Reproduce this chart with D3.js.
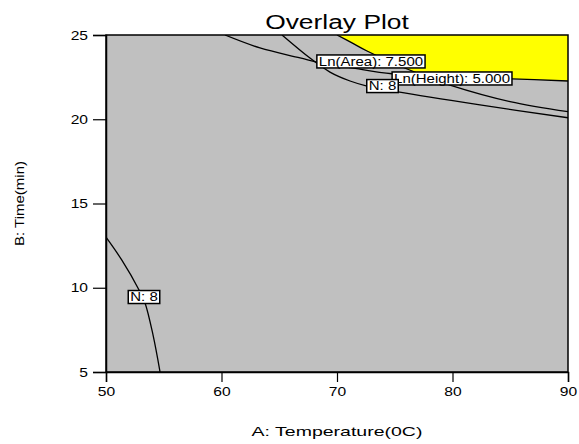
<!DOCTYPE html>
<html><head><meta charset="utf-8">
<script src="https://cdn.jsdelivr.net/npm/d3@7/dist/d3.min.js"></script>
<style>html,body{margin:0;padding:0;background:#fff;}svg{display:block;font-family:"Liberation Sans",Arial,sans-serif;}</style>
</head><body>
<script>
// ---- data ----
const xTicks = [50, 60, 70, 80, 90];
const yTicks = [5, 10, 15, 20, 25];
const xDomain = [50, 90];
const yDomain = [5, 25];
// contour Ln(Height) = 5.000  (A, B)
const heightContour = [[60.30,25],[63.33,24.23],[66.80,23.64],[68.53,23.34],[71.13,23.07],[74.76,22.70],[79.78,22.52],[85.15,22.40],[90,22.27]];
// contour Ln(Area) = 7.500
const areaContour = [[70,25],[71.3,24.53],[72.6,24.05],[75.02,23.28],[77.62,22.57],[79.78,22.03],[84.98,21.05],[90,20.45]];
// contour N = 8 (upper branch)
const nContourTop = [[65.24,25],[67.66,23.63],[69.39,22.80],[71.13,22.27],[72.6,21.97],[75.28,21.62],[82.38,20.85],[90,20.09]];
// contour N = 8 (lower-left branch)
const nContourLow = [[50,13.0],[51.36,11.65],[52.86,9.87],[53.38,9.1],[54.07,7.2],[54.68,5.0]];
const labelText = ["Ln(Area): 7.500","Ln(Height): 5.000","N: 8","N: 8"];
const labelX = [72.94, 79.96, 73.94, 53.29];
const labelY = [23.43, 22.42, 21.97, 9.45];
const titleText = "Overlay Plot";
const xTitle = "A: Temperature(0C)";
const yTitle = "B: Time(min)";

// ---- drawing ----
const W = 579, H = 444;
const L = 106, R = 568, T = 35, B = 372;
const SX = 1.25;
const svg = d3.select("body").append("svg").attr("width", W).attr("height", H);
const x = d3.scaleLinear().domain(xDomain).range([L, R]);
const y = d3.scaleLinear().domain(yDomain).range([B, T]);

const defs = svg.append("defs");
svg.append("rect").attr("x", L).attr("y", T).attr("width", R - L).attr("height", B - T).attr("fill", "#c0c0c0");

const line = d3.line().x(d => x(d[0])).y(d => y(d[1])).curve(d3.curveCatmullRom.alpha(0.5));

// yellow region: right of Ln(Area) contour and above Ln(Height) contour
defs.append("clipPath").attr("id", "aboveH").append("path")
  .attr("d", line(heightContour) + `L${x(xDomain[1])},${y(yDomain[1])}Z`);
defs.append("clipPath").attr("id", "plotClip").append("rect")
  .attr("x", L).attr("y", T).attr("width", R - L).attr("height", B - T);
svg.append("path")
  .attr("d", line(areaContour) + `L${x(xDomain[1])},${y(yDomain[1])}Z`)
  .attr("fill", "#ffff00").attr("clip-path", "url(#aboveH)");

const lines = svg.append("g").attr("clip-path", "url(#plotClip)");
[heightContour, areaContour, nContourTop, nContourLow].forEach(c => {
  lines.append("path").attr("d", line(c)).attr("fill", "none").attr("stroke", "#000").attr("stroke-width", 1.3);
});

// contour labels
labelText.forEach((t, i) => {
  const g = svg.append("g").attr("transform", `translate(${x(labelX[i])},${y(labelY[i])})`);
  const rect = g.append("rect").attr("fill", "#fff").attr("stroke", "#000").attr("stroke-width", 1.5);
  const tx = g.append("text").text(t).attr("font-size", 12).attr("text-anchor", "middle")
    .attr("y", 4.3).attr("transform", `scale(${SX},1)`);
  const w = tx.node().getComputedTextLength() * SX + 4;
  rect.attr("x", -w / 2).attr("y", -6.5).attr("width", w).attr("height", 13);
});

// border
svg.append("rect").attr("x", L).attr("y", T).attr("width", R - L).attr("height", B - T)
  .attr("fill", "none").attr("stroke", "#000").attr("stroke-width", 1.5);

// axes
const ax = svg.append("g").attr("transform", `translate(0,${B})`)
  .call(d3.axisBottom(x).tickValues(xTicks).tickSize(10).tickPadding(5).tickFormat(d3.format("d")));
const ay = svg.append("g").attr("transform", `translate(${L},0)`)
  .call(d3.axisLeft(y).tickValues(yTicks).tickSize(13).tickPadding(4).tickFormat(d3.format("d")));
[ax, ay].forEach(a => {
  a.select(".domain").attr("stroke-width", 1.5);
  a.selectAll(".tick line").attr("stroke-width", 1.2);
  a.selectAll("text").attr("font-size", 12.5).attr("font-family", "Liberation Sans, Arial, sans-serif").attr("fill", "#000");
});
ax.selectAll("text").attr("transform", `scale(${SX},1)`);
ay.selectAll("text").attr("x", -18 / SX).attr("transform", `scale(${SX},1)`);

// titles
svg.append("text").text(titleText).attr("font-size", 20).attr("text-anchor", "middle")
  .attr("transform", `translate(${(L + R) / 2},29) scale(1.32,1)`);
svg.append("text").text(xTitle).attr("font-size", 13).attr("text-anchor", "middle")
  .attr("transform", `translate(${(L + R) / 2},436) scale(1.5,1)`);
svg.append("text").text(yTitle).attr("font-size", 12.5).attr("text-anchor", "middle")
  .attr("transform", `translate(24,${(T + B) / 2}) rotate(-90) scale(1.2,1)`);
</script>
</body></html>
